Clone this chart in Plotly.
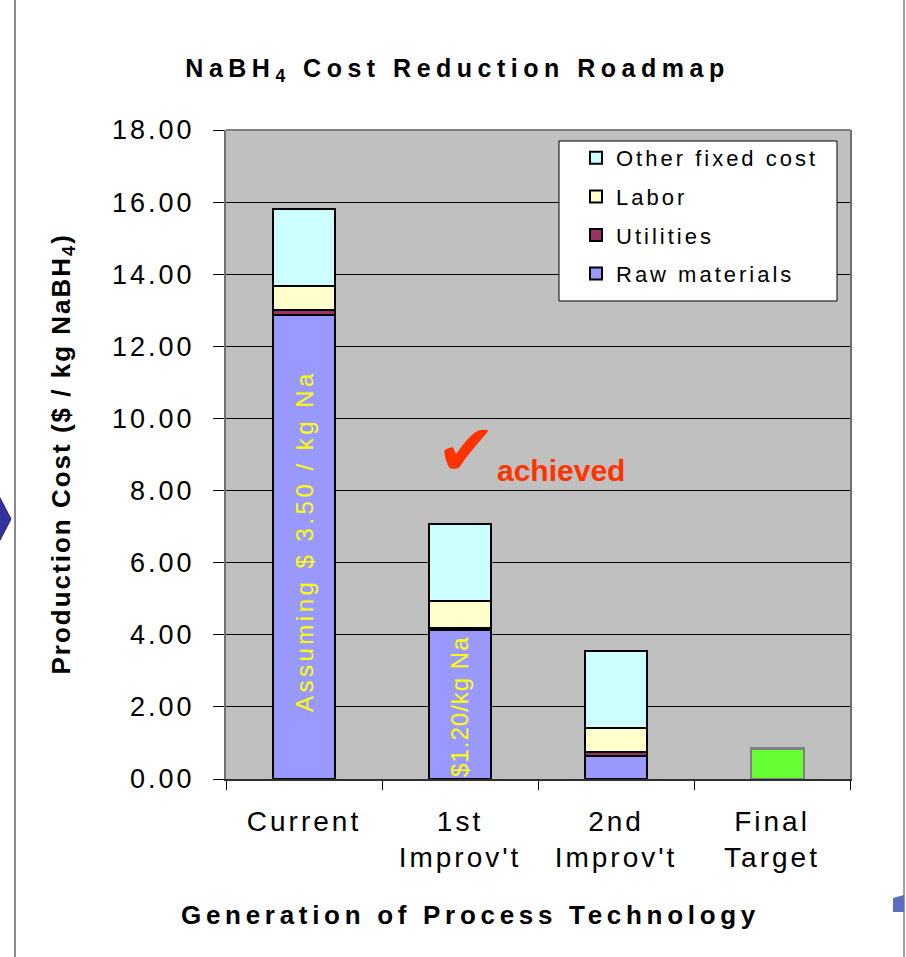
import plotly.graph_objects as go

# ---------------- data ----------------
categories = ["Current", "1st<br>Improv't", "2nd<br>Improv't", "Final<br>Target"]
series_names = ["Raw materials", "Utilities", "Labor", "Other fixed cost"]
raw_materials = [12.88, 4.13, 0.64, None]
utilities = [0.12, 0.07, 0.10, None]
labor = [0.66, 0.74, 0.67, None]
other_fixed = [2.15, 2.12, 2.15, None]
final_target = [0.85]
y_tick_values = [0, 2, 4, 6, 8, 10, 12, 14, 16, 18]
y_tick_labels = ["0.00", "2.00", "4.00", "6.00", "8.00", "10.00", "12.00", "14.00", "16.00", "18.00"]
bar_notes = ["Assuming $ 3.50 / kg Na", "$1.20/kg Na"]
note_y = [6.6, 2.0]

series_values = [raw_materials, utilities, labor, other_fixed]
series_colors = ["#9999FF", "#993366", "#FFFFCC", "#CCFFFF"]

FONT = "Liberation Sans, Arial, sans-serif"
W, H = 906, 957
L, R, T, B = 226, 850, 130, 779


def sp(text, px):
    return f'<span style="letter-spacing:{px}px">{text}</span>'


def spl(text, px):
    return "<br>".join(sp(t, px) for t in text.split("<br>"))


def px_x(x):
    return (x - L) / (R - L)


def px_y(y):
    return (B - y) / (B - T)


fig = go.Figure()
n = len(series_names)
for i, (name, vals, col) in enumerate(zip(series_names, series_values, series_colors)):
    fig.add_trace(go.Bar(
        x=categories, y=vals, name=sp(name, 3), width=0.4,
        marker=dict(color=col, line=dict(color="black", width=2)),
        legendgroup=name, legendrank=(n - i) * 100,
    ))
fig.add_trace(go.Bar(
    x=categories[3:], y=final_target, name="Final target", showlegend=False,
    width=0.34, offset=-0.135,
    marker=dict(color="#66FF33", line=dict(color="#808080", width=2.5)),
))

annotations = [
    dict(x=categories[0], y=note_y[0], xref="x", yref="y", text=sp(bar_notes[0], 3.5),
         textangle=-90, showarrow=False, xanchor="center", yanchor="middle",
         font=dict(family=FONT, size=24, color="#FFFF00")),
    dict(x=categories[1], y=note_y[1], xref="x", yref="y", text=sp(bar_notes[1], 1),
         textangle=-90, showarrow=False, xanchor="center", yanchor="middle",
         font=dict(family=FONT, size=24, color="#FFFF00")),
    dict(x=px_x(466), y=px_y(450), xref="paper", yref="paper", text="✔", showarrow=False,
         xanchor="center", yanchor="middle",
         font=dict(family="DejaVu Sans", size=72, color="#FF3300")),
    dict(x=px_x(561), y=px_y(470), xref="paper", yref="paper", text="<b>achieved</b>", showarrow=False,
         xanchor="center", yanchor="middle",
         font=dict(family=FONT, size=30, color="#FF3300")),
    dict(x=px_x(62), y=0.5, xref="paper", yref="paper", textangle=-90, showarrow=False,
         xanchor="center", yanchor="middle",
         text="<b>" + sp("Production Cost ($ / kg NaBH<sub>4</sub>)", 2) + "</b>",
         font=dict(family=FONT, size=26, color="black")),
    dict(x=px_x(470), y=px_y(915), xref="paper", yref="paper", showarrow=False,
         xanchor="center", yanchor="middle",
         text="<b>" + sp("Generation of Process Technology", 4.7) + "</b>",
         font=dict(family=FONT, size=26, color="black")),
]

shapes = [
    # top border of plot area
    dict(type="line", xref="paper", yref="paper", x0=0, x1=1, y0=1, y1=1,
         line=dict(color="#808080", width=2)),
    # legend box
    dict(type="rect", xref="paper", yref="paper", layer="above",
         x0=px_x(559), x1=px_x(837), y0=px_y(141), y1=px_y(301),
         fillcolor="white", line=dict(color="black", width=1)),
    # slide frame lines
    dict(type="line", xref="paper", yref="paper", x0=px_x(15), x1=px_x(15), y0=px_y(0), y1=px_y(957),
         line=dict(color="#8C8C8C", width=2)),
    dict(type="line", xref="paper", yref="paper", x0=px_x(904), x1=px_x(904), y0=px_y(0), y1=px_y(957),
         line=dict(color="#A0A0A0", width=2)),
    # left arrow head
    dict(type="path", xref="paper", yref="paper",
         path=f"M {px_x(-2)},{px_y(494)} L {px_x(11)},{px_y(519)} L {px_x(-2)},{px_y(544)} Z",
         fillcolor="#3333A0", line=dict(color="#222266", width=1)),
    # right blue tab
    dict(type="path", xref="paper", yref="paper",
         path=f"M {px_x(893)},{px_y(898)} L {px_x(904)},{px_y(895)} L {px_x(904)},{px_y(912)} L {px_x(893)},{px_y(912)} Z",
         fillcolor="#5B6EC0", line=dict(width=0)),
]

fig.update_layout(
    width=W, height=H, autosize=False,
    margin=dict(l=L, r=W - R, t=T, b=H - B, pad=0),
    paper_bgcolor="white", plot_bgcolor="#C0C0C0",
    barmode="stack",
    font=dict(family=FONT, color="black"),
    title=dict(text="<b>" + sp("NaBH<sub>4</sub> Cost Reduction Roadmap", 5.5) + "</b>",
               x=457.5 / W, xanchor="center", y=1 - 68 / H, yanchor="middle",
               font=dict(family=FONT, size=25, color="black")),
    legend=dict(x=px_x(576), y=px_y(137), xanchor="left", yanchor="top",
                bgcolor="rgba(0,0,0,0)", borderwidth=0,
                font=dict(family=FONT, size=22, color="black"),
                traceorder="grouped", tracegroupgap=7, itemclick=False),
    xaxis=dict(type="category", categoryorder="array", categoryarray=categories,
               range=[-0.5, 3.5], tickson="boundaries", ticks="outside", ticklen=9,
               tickcolor="black", showline=True, linecolor="#303030", linewidth=2,
               showgrid=False, tickvals=categories, ticktext=[spl(c, 3) for c in categories],
               tickfont=dict(family=FONT, size=28, color="black"), ticklabelstandoff=16),
    yaxis=dict(range=[0, 18], tickvals=y_tick_values, ticktext=[sp(t, 3) for t in y_tick_labels],
               ticks="outside", ticklen=11, tickcolor="black",
               showline=True, linecolor="#707070", linewidth=2, mirror=True,
               showgrid=True, gridcolor="black", gridwidth=1, zeroline=False,
               tickfont=dict(family=FONT, size=27, color="black"), ticklabelstandoff=13),
    annotations=annotations,
    shapes=shapes,
    showlegend=True,
)

fig.write_html("out.html", config={"displayModeBar": False},
               post_script="document.body.style.margin='0';")
